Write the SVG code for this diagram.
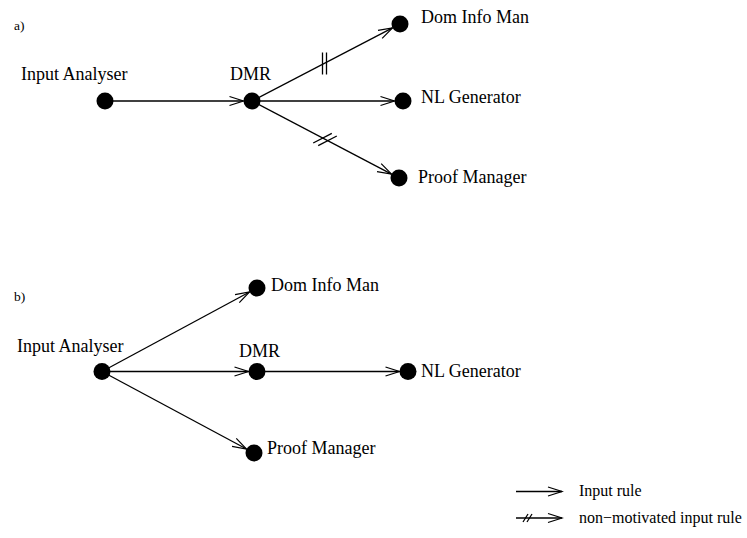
<svg xmlns="http://www.w3.org/2000/svg" width="747" height="538" viewBox="0 0 747 538">
<style>
text{font-family:"Liberation Serif","Times New Roman",serif;fill:#000}
.lbl{font-size:18px}
.sm{font-size:13.5px}
.lg{font-size:16px}
.n{fill:#000}
.e{stroke:#000;stroke-width:1.3;fill:none}
</style>
<defs>
<marker id="ah" markerUnits="userSpaceOnUse" markerWidth="20" markerHeight="12" viewBox="-15 -6 16 12" refX="0" refY="0" orient="auto">
<path d="M-14,-4.5 L0,0 L-14,4.5" fill="none" stroke="#000" stroke-width="1.2"/>
</marker>
</defs>
<rect width="747" height="538" fill="#fff"/>
<text class="sm" x="14" y="30">a)</text>
<text class="sm" x="14" y="301">b)</text>
<g id="connectors">
<line class="e" x1="105" y1="101" x2="243.5" y2="101" marker-end="url(#ah)"/>
<line class="e" x1="252" y1="101" x2="392.5" y2="27.9" marker-end="url(#ah)"/>
<line class="e" x1="252" y1="101" x2="394.5" y2="101" marker-end="url(#ah)"/>
<line class="e" x1="252" y1="101" x2="391.5" y2="174.1" marker-end="url(#ah)"/>
<line class="e" x1="322.5" y1="52.5" x2="322.5" y2="74.5"/>
<line class="e" x1="326.5" y1="52.5" x2="326.5" y2="74.5"/>
<line class="e" x1="313.2" y1="143" x2="331.8" y2="133.4"/>
<line class="e" x1="318.2" y1="145.6" x2="336.8" y2="136"/>
<line class="e" x1="102" y1="371.5" x2="249.5" y2="292" marker-end="url(#ah)"/>
<line class="e" x1="102" y1="371.5" x2="248.5" y2="371.5" marker-end="url(#ah)"/>
<line class="e" x1="102" y1="371.5" x2="246.5" y2="449" marker-end="url(#ah)"/>
<line class="e" x1="257" y1="371.5" x2="399.5" y2="371.5" marker-end="url(#ah)"/>
</g>
<g id="a-input-analyser"><circle class="n" cx="105" cy="101" r="8.5"/><text class="lbl" x="21" y="80">Input Analyser</text></g>
<g id="a-dmr"><circle class="n" cx="252" cy="101" r="8.5"/><text class="lbl" x="230" y="80">DMR</text></g>
<g id="a-dom-info-man"><circle class="n" cx="400" cy="24" r="8.5"/><text class="lbl" x="421" y="23">Dom Info Man</text></g>
<g id="a-nl-generator"><circle class="n" cx="403" cy="101" r="8.5"/><text class="lbl" x="421" y="103">NL Generator</text></g>
<g id="a-proof-manager"><circle class="n" cx="399" cy="178" r="8.5"/><text class="lbl" x="418" y="183">Proof Manager</text></g>
<g id="b-input-analyser"><circle class="n" cx="102" cy="371.5" r="8.5"/><text class="lbl" x="17" y="352">Input Analyser</text></g>
<g id="b-dom-info-man"><circle class="n" cx="257" cy="288" r="8.5"/><text class="lbl" x="271" y="291">Dom Info Man</text></g>
<g id="b-dmr"><circle class="n" cx="257" cy="371.5" r="8.5"/><text class="lbl" x="239" y="357">DMR</text></g>
<g id="b-proof-manager"><circle class="n" cx="254" cy="453" r="8.5"/><text class="lbl" x="267" y="454">Proof Manager</text></g>
<g id="b-nl-generator"><circle class="n" cx="408" cy="371.5" r="8.5"/><text class="lbl" x="421" y="377">NL Generator</text></g>
<g id="legend">
<line class="e" x1="516" y1="491.5" x2="562" y2="491.5" marker-end="url(#ah)"/>
<text class="lg" x="579" y="496">Input rule</text>
<line class="e" x1="516" y1="518" x2="562" y2="518" marker-end="url(#ah)"/>
<line class="e" x1="523" y1="522" x2="528" y2="514"/>
<line class="e" x1="527" y1="522" x2="532" y2="514"/>
<text class="lg" x="579" y="523">non−motivated input rule</text>
</g>
</svg>
